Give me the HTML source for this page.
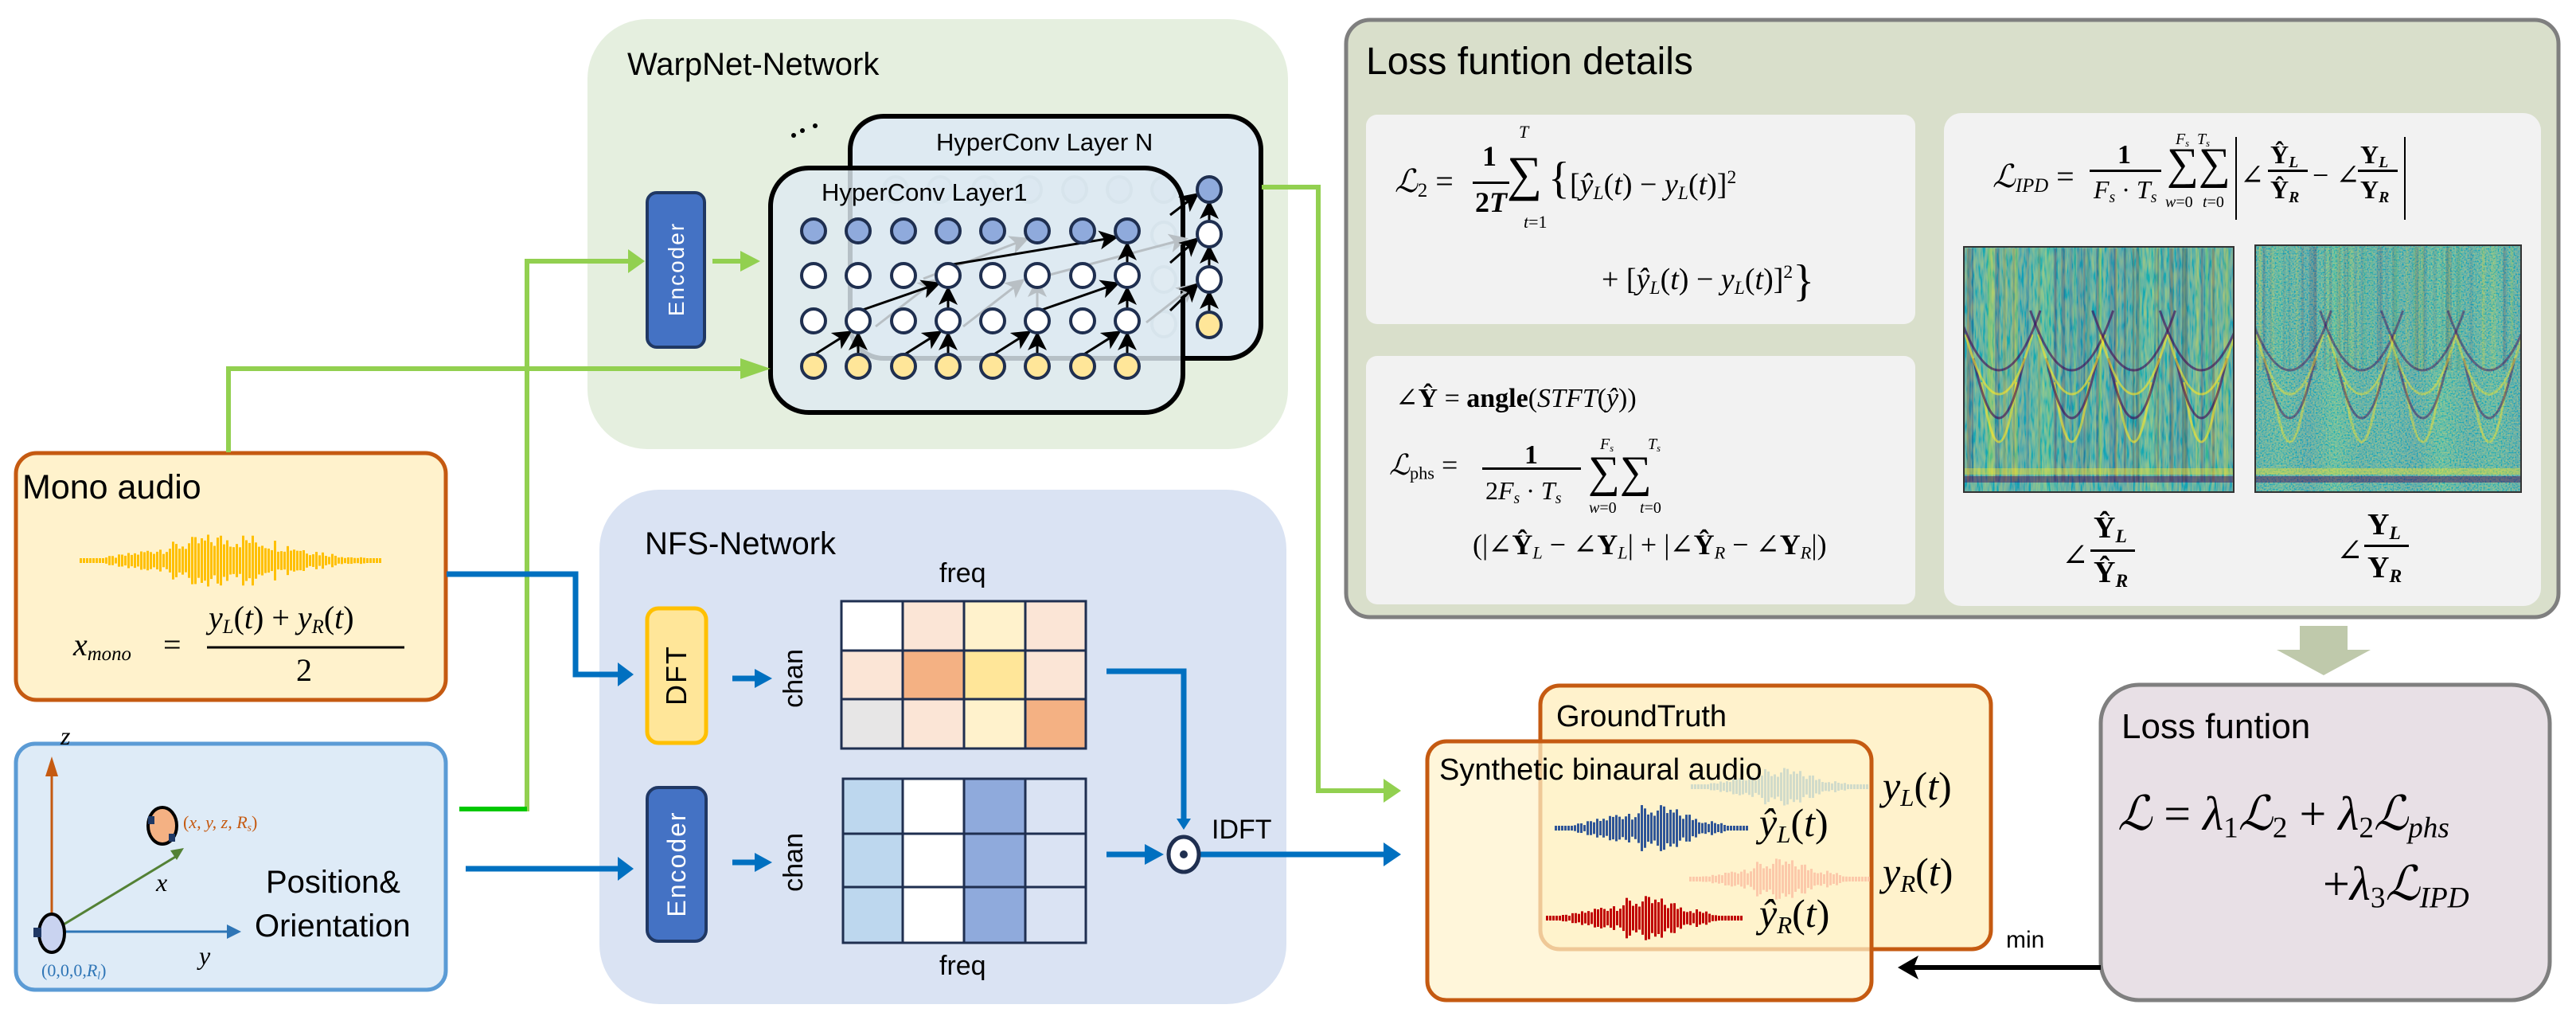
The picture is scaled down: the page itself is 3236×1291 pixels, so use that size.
<!DOCTYPE html>
<html><head><meta charset="utf-8"><style>
html,body{margin:0;padding:0;background:#fff}
#c{position:relative;width:3236px;height:1291px;overflow:hidden;background:#fff}
svg{position:absolute;left:0;top:0}
.t{position:absolute;line-height:1;white-space:nowrap;font-family:"Liberation Sans",sans-serif;color:#000}
.m{position:absolute;line-height:1;white-space:nowrap;font-family:"Liberation Serif","DejaVu Serif",serif;font-style:italic;color:#000}
.up{font-style:normal}
.b{font-weight:bold;font-style:normal}
sub{font-size:0.62em;vertical-align:-0.25em}
sup{font-size:0.62em;vertical-align:0.6em}
.rot{position:absolute;line-height:1;white-space:nowrap;font-family:"Liberation Sans",sans-serif;transform:translate(-50%,-50%) rotate(-90deg)}
</style></head><body><div id="c">
<svg width="3236" height="1291" viewBox="0 0 3236 1291" xmlns="http://www.w3.org/2000/svg">
<defs>
<marker id="ak" markerWidth="8" markerHeight="8" refX="7" refY="4" orient="auto" markerUnits="strokeWidth"><path d="M0,0 L8,4 L0,8 L2,4 z" fill="#000"/></marker>
<marker id="akg" markerWidth="8" markerHeight="8" refX="7" refY="4" orient="auto" markerUnits="strokeWidth"><path d="M0,0 L8,4 L0,8 L2,4 z" fill="#b8bfc4"/></marker>
<linearGradient id="sp" x1="0" x2="1" y1="0" y2="0">
<stop offset="0" stop-color="#2a8c8a"/><stop offset="0.1" stop-color="#35a083"/><stop offset="0.2" stop-color="#26828e"/><stop offset="0.3" stop-color="#3bae7c"/><stop offset="0.4" stop-color="#2a8c8a"/><stop offset="0.5" stop-color="#31998a"/><stop offset="0.6" stop-color="#26828e"/><stop offset="0.7" stop-color="#3bae7c"/><stop offset="0.8" stop-color="#2a8c8a"/><stop offset="0.9" stop-color="#35a083"/><stop offset="1" stop-color="#26828e"/>
</linearGradient>
<filter id="nz" x="0" y="0" width="1" height="1"><feTurbulence type="fractalNoise" baseFrequency="0.35 0.05" numOctaves="2" seed="3"/><feColorMatrix type="matrix" values="1.6 0 0 0 -0.5  0.6 0 0 0 0.3  -0.8 0 0 0 0.9  0 0 0 0 0.55"/></filter>
<filter id="nz2" x="0" y="0" width="1" height="1"><feTurbulence type="fractalNoise" baseFrequency="0.5 0.5" numOctaves="2" seed="8"/><feColorMatrix type="matrix" values="1.6 0 0 0 -0.5  0.6 0 0 0 0.3  -0.8 0 0 0 0.9  0 0 0 0 0.6"/></filter>
<clipPath id="cp0"><rect x="2467" y="310" width="339" height="308"/></clipPath>
<clipPath id="cp1"><rect x="2833" y="308" width="334" height="310"/></clipPath>
</defs>

<rect x="738" y="24" width="880" height="540" rx="75" fill="#e5efdf"/>
<rect x="753" y="615" width="863" height="646" rx="75" fill="#dae3f3"/>

<rect x="1068" y="146" width="516" height="304" rx="42" fill="#deeaf2" stroke="#000" stroke-width="6"/>
<g id="fadedN"></g>
<rect x="968" y="211" width="518" height="307" rx="48" fill="rgba(222,234,242,0.82)" stroke="#000" stroke-width="6"/>
<g id="nodes"></g>
<g fill="#000"><circle cx="997" cy="170" r="3"/><circle cx="1008" cy="164" r="3"/><circle cx="1024" cy="158" r="3"/></g>

<rect x="813" y="242" width="72" height="194" rx="12" fill="#4472c4" stroke="#203864" stroke-width="4"/>
<rect x="813" y="764" width="74" height="169" rx="14" fill="#ffe699" stroke="#ffc000" stroke-width="5"/>
<rect x="813" y="989" width="74" height="193" rx="14" fill="#4472c4" stroke="#203864" stroke-width="4"/>

<g stroke="#1f2f50" stroke-width="3">
<rect x="1057" y="755" width="77" height="62" fill="#ffffff"/><rect x="1134" y="755" width="77" height="62" fill="#fbe5d6"/><rect x="1211" y="755" width="77" height="62" fill="#fff2cc"/><rect x="1288" y="755" width="76" height="62" fill="#fbe5d6"/>
<rect x="1057" y="817" width="77" height="61" fill="#fbe5d6"/><rect x="1134" y="817" width="77" height="61" fill="#f4b183"/><rect x="1211" y="817" width="77" height="61" fill="#ffe699"/><rect x="1288" y="817" width="76" height="61" fill="#fbe5d6"/>
<rect x="1057" y="878" width="77" height="62" fill="#e7e6e6"/><rect x="1134" y="878" width="77" height="62" fill="#fbe5d6"/><rect x="1211" y="878" width="77" height="62" fill="#fff2cc"/><rect x="1288" y="878" width="76" height="62" fill="#f4b183"/>
<rect x="1059" y="978" width="75" height="69" fill="#bdd7ee"/><rect x="1134" y="978" width="77" height="69" fill="#ffffff"/><rect x="1211" y="978" width="77" height="69" fill="#8faadc"/><rect x="1288" y="978" width="76" height="69" fill="#dae3f3"/>
<rect x="1059" y="1047" width="75" height="67" fill="#bdd7ee"/><rect x="1134" y="1047" width="77" height="67" fill="#ffffff"/><rect x="1211" y="1047" width="77" height="67" fill="#8faadc"/><rect x="1288" y="1047" width="76" height="67" fill="#dae3f3"/>
<rect x="1059" y="1114" width="75" height="70" fill="#bdd7ee"/><rect x="1134" y="1114" width="77" height="70" fill="#ffffff"/><rect x="1211" y="1114" width="77" height="70" fill="#8faadc"/><rect x="1288" y="1114" width="76" height="70" fill="#dae3f3"/>
</g>

<rect x="20" y="569" width="540" height="310" rx="26" fill="#fff2cc" stroke="#c55a11" stroke-width="5"/>
<g id="wmono" fill="#ffc000"></g>
<line x1="260" y1="813" x2="508" y2="813" stroke="#000" stroke-width="3"/>

<rect x="20" y="934" width="540" height="309" rx="24" fill="#deebf7" stroke="#5b9bd5" stroke-width="5"/>
<line x1="65" y1="1170" x2="65" y2="968" stroke="#c55a11" stroke-width="3"/>
<path d="M57,975 L65,950 L73,975 z" fill="#c55a11"/>
<line x1="65" y1="1170" x2="288" y2="1170" stroke="#2e75b6" stroke-width="3"/>
<path d="M285,1161 L303,1170 L285,1179 z" fill="#2e75b6"/>
<line x1="65" y1="1170" x2="222" y2="1075" stroke="#538135" stroke-width="3"/>
<path d="M214,1068 L231,1065 L222,1080 z" fill="#538135"/>
<ellipse cx="65" cy="1172" rx="16" ry="24" fill="#c9d3f0" stroke="#000" stroke-width="4"/>
<rect x="42" y="1165" width="10" height="12" fill="#1f3864"/>
<ellipse cx="204" cy="1037" rx="18" ry="23" fill="#f4b183" stroke="#000" stroke-width="4"/>
<rect x="186" y="1025" width="8" height="10" fill="#1f3864"/><rect x="212" y="1047" width="8" height="10" fill="#1f3864"/>

<g fill="none" stroke="#92d050" stroke-width="6">
<polyline points="287,568 287,463 935,463"/>
<polyline points="577,1016 662,1016 662,328 790,328"/>
<line x1="895" y1="328" x2="935" y2="328"/>
<polyline points="1585,235 1656,235 1656,993 1740,993"/>
</g>
<line x1="577" y1="1016" x2="662" y2="1016" stroke="#00c800" stroke-width="6"/>
<g fill="#92d050">
<path d="M930,450 L968,463 L930,476 z"/><path d="M789,313 L810,328 L789,343 z"/><path d="M930,315 L955,328 L930,341 z"/><path d="M1738,978 L1760,993 L1738,1008 z"/>
</g>

<g fill="none" stroke="#0070c0" stroke-width="7">
<polyline points="561,721 723,721 723,847 780,847"/>
<line x1="585" y1="1091" x2="780" y2="1091"/>
<line x1="920" y1="852" x2="950" y2="852"/>
<line x1="920" y1="1083" x2="950" y2="1083"/>
<polyline points="1390,843 1487,843 1487,1030"/>
<line x1="1390" y1="1073" x2="1440" y2="1073"/>
<line x1="1508" y1="1073" x2="1740" y2="1073"/>
</g>
<g fill="#0070c0">
<path d="M776,832 L796,847 L776,862 z"/><path d="M776,1076 L796,1091 L776,1106 z"/>
<path d="M948,840 L970,852 L948,864 z"/><path d="M948,1071 L970,1083 L948,1095 z"/>
<path d="M1478,1028 L1487,1042 L1496,1028 z"/><path d="M1438,1060 L1462,1073 L1438,1086 z"/>
<path d="M1738,1058 L1760,1073 L1738,1088 z"/>
</g>
<ellipse cx="1487" cy="1073" rx="19" ry="22" fill="#fff" stroke="#1f2f50" stroke-width="5"/>
<circle cx="1487" cy="1073" r="5" fill="#1f2f50"/>

<rect x="1691" y="25" width="1523" height="750" rx="30" fill="#d9dfcb" stroke="#7f7f7f" stroke-width="5"/>
<rect x="1716" y="144" width="690" height="263" rx="14" fill="#f2f2f2"/>
<rect x="1716" y="447" width="690" height="312" rx="14" fill="#f2f2f2"/>
<rect x="2442" y="142" width="750" height="619" rx="22" fill="#f2f2f2"/>
<g id="spec"></g>

<path d="M2889,786 L2949,786 L2949,816 L2978,816 L2919,848 L2860,816 L2889,816 z" fill="#bfc9ab"/>

<rect x="2639" y="860" width="564" height="396" rx="48" fill="#e8e0e6" stroke="#7f7f7f" stroke-width="5"/>

<rect x="1935" y="861" width="566" height="331" rx="24" fill="#fff2cc" stroke="#c55a11" stroke-width="5"/>
<rect x="1793" y="931" width="558" height="325" rx="24" fill="rgba(255,242,204,0.72)" stroke="#c55a11" stroke-width="5"/>
<g id="wgt"></g>
<g id="wsyn"></g>
<line x1="2639" y1="1215" x2="2400" y2="1215" stroke="#000" stroke-width="6"/>
<path d="M2410,1200 L2384,1215 L2410,1230 L2404,1215 z" fill="#000"/>
</svg>

<div class="t" style="left:788px;top:61px;font-size:40px">WarpNet-Network</div>
<div class="t" style="left:1176px;top:163px;font-size:31px">HyperConv Layer N</div>
<div class="t" style="left:1032px;top:226px;font-size:31px">HyperConv Layer1</div>
<div class="rot" style="left:850px;top:338px;font-size:28px;color:#fff;letter-spacing:2px">Encoder</div>
<div class="rot" style="left:850px;top:848px;font-size:36px;color:#000;letter-spacing:2px">DFT</div>
<div class="rot" style="left:850px;top:1085px;font-size:32px;color:#fff;letter-spacing:2px">Encoder</div>
<div class="rot" style="left:997px;top:852px;font-size:34px">chan</div>
<div class="rot" style="left:997px;top:1083px;font-size:34px">chan</div>
<div class="t" style="left:1180px;top:703px;font-size:34px">freq</div>
<div class="t" style="left:1180px;top:1196px;font-size:34px">freq</div>
<div class="t" style="left:810px;top:663px;font-size:40px">NFS-Network</div>
<div class="t" style="left:1522px;top:1025px;font-size:34px">IDFT</div>
<div class="t" style="left:28px;top:591px;font-size:43px">Mono audio</div>
<div class="m" style="left:92px;top:790px;font-size:40px">x<sub>mono</sub></div>
<div class="m" style="left:205px;top:790px;font-size:40px"><span class="up">=</span></div>
<div class="m" style="left:262px;top:756px;font-size:40px">y<sub>L</sub><span class="up">(</span>t<span class="up">) + </span>y<sub>R</sub><span class="up">(</span>t<span class="up">)</span></div>
<div class="m" style="left:372px;top:822px;font-size:40px"><span class="up">2</span></div>
<div class="m" style="left:76px;top:908px;font-size:32px">z</div>
<div class="m" style="left:196px;top:1092px;font-size:32px">x</div>
<div class="m" style="left:250px;top:1184px;font-size:32px">y</div>
<div class="m" style="left:230px;top:1022px;font-size:22px;color:#c55a11"><span class="up">(</span>x, y, z, R<sub>s</sub><span class="up">)</span></div>
<div class="m" style="left:52px;top:1208px;font-size:22px;color:#2e75b6"><span class="up">(0,0,0,</span>R<sub>l</sub><span class="up">)</span></div>
<div class="t" style="left:334px;top:1088px;font-size:40px">Position&amp;</div>
<div class="t" style="left:320px;top:1143px;font-size:40px">Orientation</div>

<div class="t" style="left:1716px;top:54px;font-size:48px">Loss funtion details</div>
<div class="m" style="left:1752px;top:208px;font-size:40px">ℒ<sub class="up">2</sub> <span class="up">=</span></div>
<div class="m b" style="left:1862px;top:178px;font-size:36px">1</div>
<div style="position:absolute;left:1850px;top:228px;width:46px;height:3px;background:#000"></div>
<div class="m b" style="left:1853px;top:236px;font-size:36px">2<i>T</i></div>
<div class="m" style="left:1908px;top:155px;font-size:22px">T</div>
<div class="m up" style="left:1893px;top:188px;font-size:62px">∑</div>
<div class="m" style="left:1914px;top:268px;font-size:22px">t<span class="up">=1</span></div>
<div class="m" style="left:1945px;top:196px;font-size:56px"><span class="up">{</span></div>
<div class="m" style="left:1972px;top:212px;font-size:38px"><span class="up">[</span>ŷ<sub>L</sub><span class="up">(</span>t<span class="up">) − </span>y<sub>L</sub><span class="up">(</span>t<span class="up">)]</span><sup class="up">2</sup></div>
<div class="m" style="left:2012px;top:325px;font-size:38px"><span class="up">+ [</span>ŷ<sub>L</sub><span class="up">(</span>t<span class="up">) − </span>y<sub>L</sub><span class="up">(</span>t<span class="up">)]</span><sup class="up">2</sup><span class="up" style="font-size:56px;vertical-align:-8px">}</span></div>
<div class="m" style="left:1753px;top:484px;font-size:34px">∠<b style="font-style:normal">Ŷ</b> <span class="up">= </span><b style="font-style:normal">angle</b><span class="up">(</span>STFT<span class="up">(</span>ŷ<span class="up">))</span></div>
<div class="m" style="left:1745px;top:566px;font-size:36px">ℒ<sub class="up">phs</sub> <span class="up">=</span></div>
<div class="m b" style="left:1915px;top:555px;font-size:34px">1</div>
<div style="position:absolute;left:1862px;top:587px;width:124px;height:3px;background:#000"></div>
<div class="m" style="left:1866px;top:600px;font-size:32px"><span class="up">2</span>F<sub>s</sub> <span class="up">·</span> T<sub>s</sub></div>
<div class="m" style="left:2010px;top:548px;font-size:20px">F<sub>s</sub></div>
<div class="m" style="left:2070px;top:548px;font-size:20px">T<sub>s</sub></div>
<div class="m up" style="left:1995px;top:565px;font-size:56px">∑∑</div>
<div class="m" style="left:1996px;top:628px;font-size:20px">w<span class="up">=0</span></div>
<div class="m" style="left:2060px;top:628px;font-size:20px">t<span class="up">=0</span></div>
<div class="m" style="left:1850px;top:666px;font-size:36px"><span class="up">(|</span>∠<b style="font-style:normal">Ŷ</b><sub>L</sub> <span class="up">− </span>∠<b style="font-style:normal">Y</b><sub>L</sub><span class="up">| + |</span>∠<b style="font-style:normal">Ŷ</b><sub>R</sub> <span class="up">− </span>∠<b style="font-style:normal">Y</b><sub>R</sub><span class="up">|)</span></div>
<div class="m" style="left:2503px;top:202px;font-size:40px">ℒ<sub>IPD</sub> <span class="up">=</span></div>
<div class="m b" style="left:2660px;top:178px;font-size:34px">1</div>
<div style="position:absolute;left:2625px;top:213px;width:90px;height:3px;background:#000"></div>
<div class="m" style="left:2630px;top:222px;font-size:32px">F<sub>s</sub> <span class="up">·</span> T<sub>s</sub></div>
<div class="m" style="left:2733px;top:165px;font-size:20px">F<sub>s</sub></div>
<div class="m" style="left:2760px;top:165px;font-size:20px">T<sub>s</sub></div>
<div class="m up" style="left:2722px;top:178px;font-size:56px">∑∑</div>
<div class="m" style="left:2720px;top:244px;font-size:20px">w<span class="up">=0</span></div>
<div class="m" style="left:2767px;top:244px;font-size:20px">t<span class="up">=0</span></div>
<div style="position:absolute;left:2808px;top:172px;width:2px;height:104px;background:#000"></div>
<div style="position:absolute;left:3020px;top:172px;width:2px;height:104px;background:#000"></div>
<div class="m" style="left:2814px;top:202px;font-size:36px">∠</div>
<div class="m b" style="left:2852px;top:178px;font-size:32px">Ŷ<sub><i>L</i></sub></div>
<div class="m b" style="left:2852px;top:222px;font-size:32px">Ŷ<sub><i>R</i></sub></div>
<div style="position:absolute;left:2849px;top:213px;width:50px;height:3px;background:#000"></div>
<div class="m" style="left:2905px;top:202px;font-size:36px"><span class="up">− </span>∠</div>
<div class="m b" style="left:2965px;top:178px;font-size:32px">Y<sub><i>L</i></sub></div>
<div style="position:absolute;left:2962px;top:213px;width:50px;height:3px;background:#000"></div>
<div class="m b" style="left:2965px;top:222px;font-size:32px">Y<sub><i>R</i></sub></div>
<div class="m" style="left:2590px;top:678px;font-size:40px">∠</div>
<div class="m b" style="left:2630px;top:644px;font-size:38px">Ŷ<sub><i>L</i></sub></div>
<div style="position:absolute;left:2626px;top:690px;width:56px;height:3px;background:#000"></div>
<div class="m b" style="left:2630px;top:700px;font-size:38px">Ŷ<sub><i>R</i></sub></div>
<div class="m" style="left:2935px;top:672px;font-size:40px">∠</div>
<div class="m b" style="left:2974px;top:640px;font-size:38px">Y<sub><i>L</i></sub></div>
<div style="position:absolute;left:2970px;top:684px;width:56px;height:3px;background:#000"></div>
<div class="m b" style="left:2974px;top:694px;font-size:38px">Y<sub><i>R</i></sub></div>

<div class="t" style="left:1955px;top:881px;font-size:38px">GroundTruth</div>
<div class="t" style="left:1808px;top:948px;font-size:38px">Synthetic binaural audio</div>
<div class="m" style="left:2365px;top:962px;font-size:50px">y<sub>L</sub><span class="up">(</span>t<span class="up">)</span></div>
<div class="m" style="left:2210px;top:1008px;font-size:50px">ŷ<sub>L</sub><span class="up">(</span>t<span class="up">)</span></div>
<div class="m" style="left:2365px;top:1070px;font-size:50px">y<sub>R</sub><span class="up">(</span>t<span class="up">)</span></div>
<div class="m" style="left:2210px;top:1122px;font-size:50px">ŷ<sub>R</sub><span class="up">(</span>t<span class="up">)</span></div>
<div class="t" style="left:2520px;top:1166px;font-size:30px">min</div>

<div class="t" style="left:2665px;top:891px;font-size:44px">Loss funtion</div>
<div class="m" style="left:2660px;top:992px;font-size:60px">ℒ <span class="up">=</span> λ<sub class="up">1</sub>ℒ<sub class="up">2</sub> <span class="up">+</span> λ<sub class="up">2</sub>ℒ<sub>phs</sub></div>
<div class="m" style="left:2918px;top:1080px;font-size:60px"><span class="up">+</span>λ<sub class="up">3</sub>ℒ<sub>IPD</sub></div>
</div>
<script>
(function(){
var NS="http://www.w3.org/2000/svg";
function el(p,n,a){var e=document.createElementNS(NS,n);for(var k in a)e.setAttribute(k,a[k]);p.appendChild(e);return e;}
var g=document.getElementById('nodes'), fN=document.getElementById('fadedN');
var cols=[1022,1078,1135,1191,1247,1303,1360,1416], rows=[290,346,403,460];
var fills=['#8faadc','#fff','#fff','#ffe699'];
[1125,1181,1237,1293,1350,1406,1462].forEach(function(x){el(fN,'ellipse',{cx:x,cy:238,rx:15,ry:16,fill:'#cfdcec',stroke:'#b9c6d3','stroke-width':4});});
[295,351,407].forEach(function(y){el(fN,'ellipse',{cx:1462,cy:y,rx:15,ry:16,fill:'#e8eef2',stroke:'#b9c6d3','stroke-width':4});});
[[1100,410,1175,352],[1210,410,1285,352],[1160,350,1290,300],[1303,410,1303,352],[1300,350,1490,300],[1440,405,1500,358]].forEach(function(a){el(g,'line',{x1:a[0],y1:a[1],x2:a[2],y2:a[3],stroke:'#b8bfc4','stroke-width':3,'marker-end':'url(#akg)'});});
function arr(x1,y1,x2,y2){el(g,'line',{x1:x1,y1:y1,x2:x2,y2:y2,stroke:'#000','stroke-width':3,'marker-end':'url(#ak)'});}
for(var i=0;i<8;i+=2){arr(cols[i],rows[3]-14,cols[i+1]-10,rows[2]+14);arr(cols[i+1],rows[3]-14,cols[i+1],rows[2]+16);}
[[1,3],[5,7]].forEach(function(p){arr(cols[p[0]]+6,rows[2]-14,cols[p[1]]-12,rows[1]+10);arr(cols[p[1]],rows[2]-16,cols[p[1]],rows[1]+16);});
arr(cols[3]+6,rows[1]-14,cols[7]-14,rows[0]+8);arr(cols[7],rows[1]-16,cols[7],rows[0]+16);
var ny=[238,294,351,408];
for(var r=3;r>0;r--){arr(1519,ny[r]-15,1519,ny[r-1]+16);}
arr(1470,270,1504,244);arr(1470,330,1504,300);arr(1470,390,1504,357);
cols.forEach(function(x){rows.forEach(function(y,ri){el(g,'ellipse',{cx:x,cy:y,rx:15,ry:15,fill:fills[ri],stroke:'#1f2f50','stroke-width':4});});});
ny.forEach(function(y,ri){el(g,'ellipse',{cx:1519,cy:y,rx:15,ry:16,fill:fills[ri],stroke:'#1f2f50','stroke-width':4});});
function rnd(s){var x=Math.sin(s*12.9898)*43758.5453;return x-Math.floor(x);}
function wave(gid,x0,x1,cy,amp,col,seed,op){
 var gg=document.getElementById(gid);var n=Math.floor((x1-x0)/4);
 for(var i=0;i<n;i++){var t=i/(n-1);var env=Math.exp(-Math.pow((t-0.5)/0.3,2));var a=Math.max(3,amp*env*(0.4+0.6*rnd(seed+i)));
  el(gg,'rect',{x:x0+i*4,y:cy-a,width:3,height:2*a,fill:col,opacity:op||1});}
}
wave('wmono',100,483,704,36,'#ffc000',1);
wave('wgt',2124,2350,988,24,'#c9d6c9',7,0.85);
wave('wgt',2122,2350,1104,26,'#fbc1a3',9,0.85);
wave('wsyn',1953,2200,1040,30,'#2f5597',3);
wave('wsyn',1942,2193,1153,28,'#c00000',5);
var sp=document.getElementById('spec');
[[2467,310,339,308],[2833,308,334,310]].forEach(function(s,k){
 var gg=el(sp,'g',{'clip-path':'url(#cp'+k+')'});
 el(gg,'rect',{x:s[0],y:s[1],width:s[2],height:s[3],fill:'url(#sp)'});
 el(gg,'rect',{x:s[0],y:s[1],width:s[2],height:s[3],fill:'#fff',filter:k?'url(#nz2)':'url(#nz)'});
 var cl=['#fde725','#440154','#5ec962','#3b528b'];
 for(var i=0;i<70;i++){var x=s[0]+4+rnd(i*3+k*100)*(s[2]-8);el(gg,'rect',{x:x,y:s[1]+2,width:2+rnd(i+7)*3,height:s[3]*(k?0.5:0.95),fill:cl[i%4],opacity:k?0.12:0.22});}
 var us=[0.13,0.4,0.63,0.88];
 us.forEach(function(u,j){for(var q=0;q<4;q++){var cx=s[0]+u*s[2],w=22+q*10,by=s[1]+s[3]-18-q*30;
  el(gg,'path',{d:'M'+(cx-w)+','+(by-120)+' Q'+cx+','+(by+30)+' '+(cx+w)+','+(by-120),fill:'none',stroke:q%2?'#440154':'#fde725','stroke-width':3,opacity:k?0.45:0.6});}});
 el(gg,'rect',{x:s[0],y:s[1]+s[3]-20,width:s[2],height:8,fill:'#440154',opacity:0.45});
 el(gg,'rect',{x:s[0],y:s[1]+s[3]-30,width:s[2],height:8,fill:'#fde725',opacity:0.4});
 el(sp,'rect',{x:s[0],y:s[1],width:s[2],height:s[3],fill:'none',stroke:'#333','stroke-width':2});
});
})();
</script>
</body></html>
